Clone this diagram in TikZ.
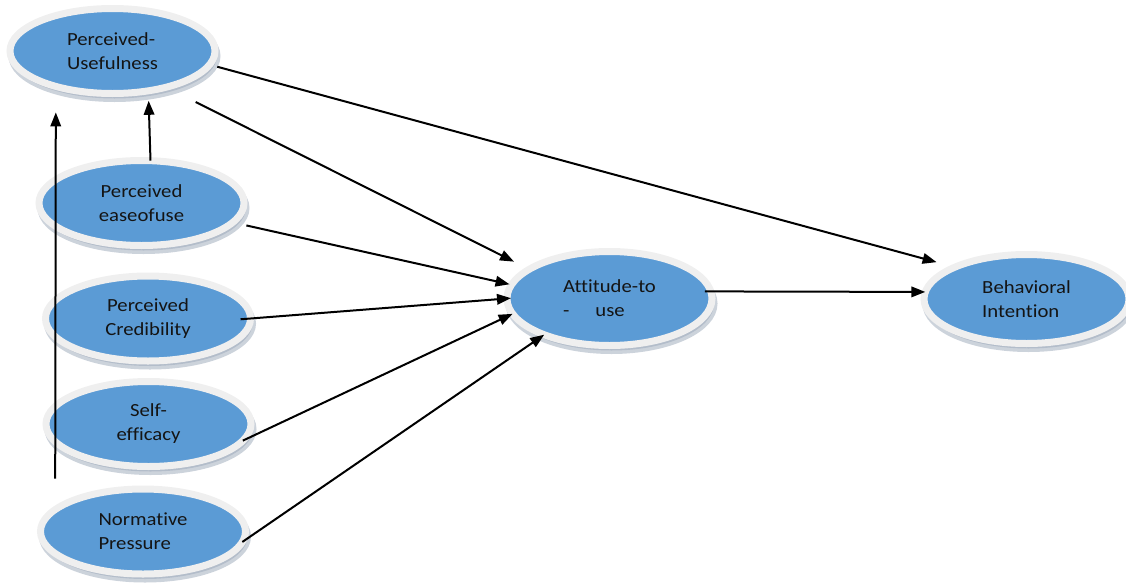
\documentclass[tikz,border=0pt]{standalone}
\usepackage{fontspec}
\setmainfont[FakeStretch=1.12,Ligatures=NoCommon]{Carlito}
\usetikzlibrary{arrows.meta,shapes.geometric,shadows}
\definecolor{constructblue}{HTML}{5B9BD5}
\definecolor{ringgray}{HTML}{EFEFEF}
\definecolor{shadowgray}{HTML}{9AA7B8}
\definecolor{labelink}{HTML}{141414}
\begin{document}
\begin{tikzpicture}[x=1pt,y=-1pt,
construct/.style={ellipse,fill=constructblue,draw=ringgray,line width=7pt,
minimum width=205pt,minimum height=85pt,inner sep=0pt,outer sep=0pt,
text=labelink,align=left,font=\fontsize{18.5}{24}\selectfont,
drop shadow={shadow xshift=2pt,shadow yshift=-5pt,fill=shadowgray,draw=shadowgray,line width=7pt}},
link/.style={line width=2pt,-{Triangle[length=14pt,width=10.5pt]}}]
\useasboundingbox (0,0) rectangle (1126,584);

\node[construct] (pu) at (112.5,51) {Perceived-\\Usefulness};
\node[construct,align=center] (peou) at (141.5,203) {Perceived\\easeofuse};
\node[construct,align=center] (pc) at (148,318.5) {Perceived\\Credibility};
\node[construct,align=center] (se) at (148.5,424) {Self-\\efficacy};
\node[construct] (np) at (143,531.5) {Normative\\Pressure};
\node[construct,minimum height=94pt] (atu) at (609.5,298.5) {Attitude-to\\-\hspace{26pt}use};
\node[construct,minimum height=89pt] (bi) at (1026.5,299) {Behavioral\\Intention};

\draw[link,shorten <=8pt,shorten >=19pt] (pu.-8) -- (bi.156);
\draw[link,shorten <=33pt,shorten >=17pt] (pu.-34) -- (atu.160);
\draw[link,shorten >=10pt] (peou.78) -- (pu.-48);
\draw[link,shorten <=31pt,shorten >=26pt] (np.166) -- (pu.212);
\draw[link,shorten <=14pt,shorten >=2pt] (peou.-12) -- (atu.172);
\draw[link,shorten <=-10pt,shorten >=-4pt] (pc.0) -- (atu.180);
\draw[link] (se.-10) -- (atu.189);
\draw[link] (np.-6) -- (atu.209);
\draw[link,shorten <=-6pt] (atu.4) -- (bi.176);

\end{tikzpicture}
\end{document}
